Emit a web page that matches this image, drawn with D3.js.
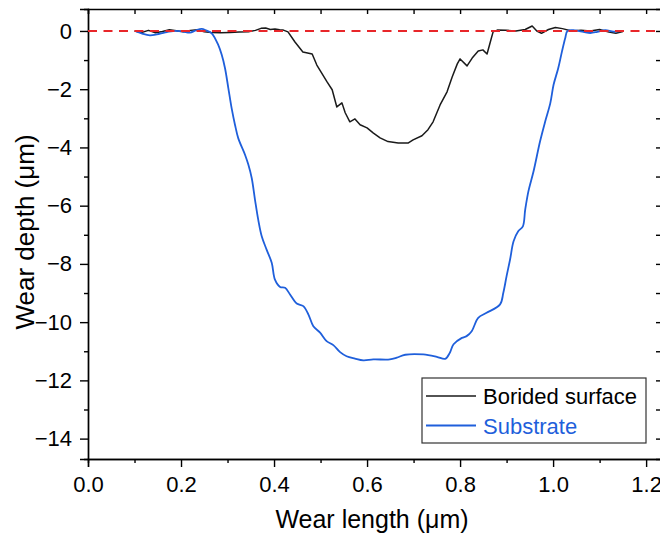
<!DOCTYPE html>
<html>
<head>
<meta charset="utf-8">
<script src="https://cdn.jsdelivr.net/npm/d3@7"></script>
<style>
  body { margin: 0; background: #fff; }
  text { font-family: "Liberation Sans", Arial, sans-serif; }
</style>
</head>
<body>
<script>
// values
const seriesNames = ['Borided surface', 'Substrate']
const seriesColors = ['#1a1a1a', '#1f5fdb']

const boridedX = [0.100, 0.115, 0.130, 0.145, 0.160, 0.175, 0.190, 0.205, 0.220, 0.235, 0.250, 0.265, 0.285, 0.305, 0.325, 0.345, 0.360, 0.372, 0.382, 0.392, 0.402, 0.412, 0.420, 0.430, 0.445, 0.462, 0.482, 0.492, 0.514, 0.525, 0.535, 0.546, 0.553, 0.563, 0.574, 0.585, 0.600, 0.613, 0.628, 0.645, 0.667, 0.688, 0.699, 0.718, 0.731, 0.742, 0.757, 0.772, 0.783, 0.794, 0.800, 0.815, 0.826, 0.839, 0.849, 0.858, 0.865, 0.871, 0.880, 0.900, 0.920, 0.940, 0.955, 0.965, 0.975, 0.990, 1.005, 1.020, 1.040, 1.060, 1.080, 1.100, 1.120, 1.135, 1.150]
const boridedY = [0.00, -0.05, 0.02, -0.06, -0.02, 0.04, 0.01, -0.03, 0.02, 0.04, -0.03, -0.05, -0.06, -0.05, -0.04, -0.03, 0.02, 0.09, 0.10, 0.05, 0.07, 0.04, 0.03, -0.03, -0.38, -0.72, -0.79, -1.17, -1.75, -2.02, -2.61, -2.47, -2.81, -3.12, -3.02, -3.22, -3.33, -3.50, -3.67, -3.80, -3.85, -3.85, -3.74, -3.60, -3.39, -3.12, -2.54, -2.09, -1.58, -1.13, -0.96, -1.20, -0.93, -0.69, -0.65, -0.79, -0.38, -0.03, 0.03, 0.02, 0.00, 0.05, 0.17, 0.00, -0.08, 0.05, 0.12, 0.08, 0.00, 0.02, 0.00, 0.05, -0.04, -0.08, -0.02]

const substrateX = [0.101, 0.118, 0.133, 0.148, 0.166, 0.187, 0.204, 0.219, 0.232, 0.2445, 0.254, 0.266, 0.280, 0.2875, 0.2946, 0.3017, 0.309, 0.316, 0.323, 0.3376, 0.3447, 0.352, 0.359, 0.366, 0.3735, 0.384, 0.395, 0.402, 0.413, 0.4237, 0.4344, 0.4488, 0.463, 0.474, 0.4845, 0.499, 0.513, 0.5275, 0.542, 0.556, 0.574, 0.592, 0.6135, 0.649, 0.664, 0.682, 0.721, 0.750, 0.768, 0.778, 0.786, 0.804, 0.814, 0.825, 0.839, 0.857, 0.886, 0.893, 0.900, 0.9075, 0.915, 0.925, 0.935, 0.940, 0.947, 0.958, 0.972, 0.983, 0.994, 1.001, 1.011, 1.019, 1.026, 1.031, 1.047, 1.065, 1.080, 1.095, 1.112, 1.130, 1.150]
const substrateY = [0.00, -0.10, -0.15, -0.12, -0.05, 0.00, -0.02, -0.06, 0.02, 0.07, 0.02, -0.08, -0.48, -0.82, -1.28, -1.96, -2.67, -3.22, -3.68, -4.25, -4.59, -5.05, -5.79, -6.48, -7.05, -7.51, -7.96, -8.54, -8.79, -8.82, -9.05, -9.36, -9.45, -9.74, -10.14, -10.36, -10.65, -10.79, -11.03, -11.17, -11.25, -11.31, -11.28, -11.28, -11.22, -11.12, -11.11, -11.19, -11.26, -11.05, -10.76, -10.54, -10.48, -10.31, -9.85, -9.68, -9.39, -8.99, -8.42, -7.85, -7.22, -6.88, -6.71, -6.14, -5.50, -4.82, -3.79, -3.11, -2.48, -1.85, -1.28, -0.71, -0.25, 0.00, 0.02, -0.03, -0.07, -0.03, 0.03, -0.02, 0.00]

const xTicks = [0, 0.2, 0.4, 0.6, 0.8, 1.0, 1.2]
const xMinorTicks = [0.1, 0.3, 0.5, 0.7, 0.9, 1.1]
const yTicks = [-14, -12, -10, -8, -6, -4, -2, 0]
const yMinorTicks = [-13, -11, -9, -7, -5, -3, -1]

const svg = d3.select('body').append('svg')
  .attr('width', 660)
  .attr('height', 535)

const plot = {left: 88, right: 661, top: 9, bottom: 459}

const x = d3.scaleLinear().domain([0, 1.232]).range([plot.left, plot.right])
const y = d3.scaleLinear().domain([-14.7, 0.754]).range([plot.bottom, plot.top])

const fmtX = d3.format('.1f')

// bottom axis, major + minor outward ticks
svg.append('g')
  .attr('transform', `translate(0,${plot.bottom})`)
  .call(d3.axisBottom(x).tickValues(xMinorTicks).tickSize(4).tickFormat(''))
svg.append('g')
  .attr('class', 'x-major')
  .attr('transform', `translate(0,${plot.bottom})`)
  .call(d3.axisBottom(x).tickValues(xTicks).tickSize(8).tickPadding(9).tickFormat(fmtX))

// left axis
svg.append('g')
  .attr('transform', `translate(${plot.left},0)`)
  .call(d3.axisLeft(y).tickValues(yMinorTicks).tickSize(4).tickFormat(''))
svg.append('g')
  .attr('class', 'y-major')
  .attr('transform', `translate(${plot.left},0)`)
  .call(d3.axisLeft(y).tickValues(yTicks).tickSize(8).tickPadding(8).tickFormat(d3.format('d')))

// top and right mirror axes, inward ticks
svg.append('g')
  .attr('transform', `translate(0,${plot.top})`)
  .call(d3.axisTop(x).tickValues(xTicks.concat(xMinorTicks)).tickSize(-5).tickFormat(''))
svg.append('g')
  .attr('transform', `translate(${plot.right},0)`)
  .call(d3.axisRight(y).tickValues(yTicks.concat(yMinorTicks)).tickSize(-5).tickFormat(''))

svg.selectAll('.domain').attr('stroke', '#000').attr('stroke-width', 1.4)
svg.selectAll('.tick line').attr('stroke', '#000').attr('stroke-width', 1.4)
svg.selectAll('.tick text')
  .attr('fill', '#000')
  .style('font-size', '22px')
  .style('font-family', '"Liberation Sans", Arial, sans-serif')

// axis titles
svg.append('text')
  .attr('x', 372)
  .attr('y', 528)
  .attr('text-anchor', 'middle')
  .style('font-size', '25px')
  .text('Wear length (μm)')

svg.append('text')
  .attr('transform', 'translate(34,232) rotate(-90)')
  .attr('text-anchor', 'middle')
  .style('font-size', '26px')
  .text('Wear depth (μm)')

// curves
const series = [
  {name: seriesNames[0], color: seriesColors[0], xs: boridedX, ys: boridedY, width: 1.5, curve: d3.curveLinear},
  {name: seriesNames[1], color: seriesColors[1], xs: substrateX, ys: substrateY, width: 1.8, curve: d3.curveCatmullRom}
]

const line = d3.line()
  .x((d) => x(d[0]))
  .y((d) => y(d[1]))

series.forEach((s) => {
  const pts = s.xs.map((v, i) => [v, s.ys[i]])
  svg.append('path')
    .datum(pts)
    .attr('fill', 'none')
    .attr('stroke', s.color)
    .attr('stroke-width', s.width)
    .attr('stroke-linejoin', 'round')
    .attr('d', line.curve(s.curve))
})

// zero reference line
svg.append('line')
  .attr('x1', plot.left)
  .attr('x2', plot.right)
  .attr('y1', y(0))
  .attr('y2', y(0))
  .attr('stroke', '#e8262a')
  .attr('stroke-width', 2)
  .attr('stroke-dasharray', '9,6.5')

// legend
const lg = svg.append('g').attr('transform', 'translate(422,378)')
lg.append('rect')
  .attr('width', 224)
  .attr('height', 65)
  .attr('fill', '#fff')
  .attr('stroke', '#333')
  .attr('stroke-width', 1.2)

series.forEach((s, i) => {
  const cy = 18 + i * 29.5
  lg.append('line')
    .attr('x1', 4).attr('x2', 54)
    .attr('y1', cy).attr('y2', cy)
    .attr('stroke', s.color)
    .attr('stroke-width', s.width)
  lg.append('text')
    .attr('x', 61)
    .attr('y', cy + 8)
    .attr('fill', i === 0 ? '#000' : s.color)
    .style('font-size', '22px')
    .text(s.name)
})
</script>
</body>
</html>
